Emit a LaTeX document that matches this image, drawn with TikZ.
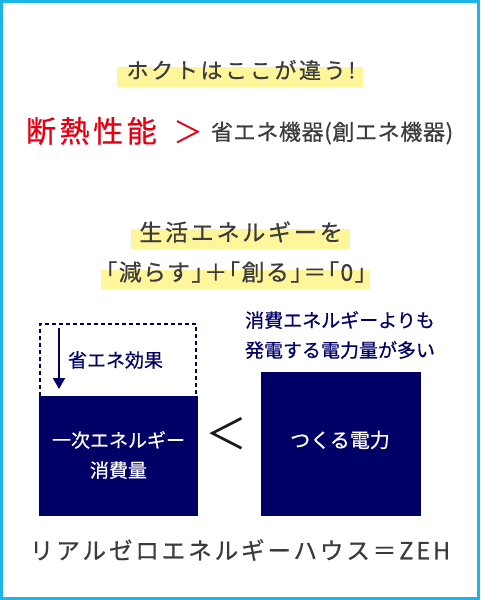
\documentclass[tikz,border=0pt]{standalone}
\usepackage{fontspec}
\setmainfont[FakeBold=0.6]{Noto Sans CJK JP}
\newfontfamily\jpsp[LetterSpace=12,FakeBold=0.6]{Noto Sans CJK JP}
\newfontfamily\jpspb[LetterSpace=3,FakeBold=0.6]{Noto Sans CJK JP}
\newfontfamily\jphalt[LetterSpace=6,RawFeature=+halt,FakeBold=0.6]{Noto Sans CJK JP}
\newfontfamily\jpthin{Noto Sans CJK JP}
\usetikzlibrary{arrows.meta}
\definecolor{framec}{HTML}{1DB4EC}
\definecolor{navy}{HTML}{000066}
\definecolor{hl}{HTML}{FFF59B}
\definecolor{txt}{HTML}{3C3C3C}
\definecolor{redt}{HTML}{E60012}
\tikzset{
  plain/.style={inner sep=0pt, outer sep=0pt},
  hlbar/.style={fill=hl},
  navybox/.style={fill=navy, draw=none, inner sep=0pt, outer sep=0pt},
  boxtext/.style={plain, text=white, font=\fontsize{19}{30}\selectfont, align=center},
  navytext/.style={plain, text=navy, font=\fontsize{19}{19}\selectfont},
}
\begin{document}
\begin{tikzpicture}[x=1pt,y=-1pt]
\fill[framec] (0,0) rectangle (480,600);
\fill[white] (3,3) rectangle (476.5,597);
\useasboundingbox (0,0) rectangle (480,600);

% highlights
\fill[hlbar] (117,67) rectangle (363,87);
\fill[hlbar] (131,229) rectangle (350,249);
\fill[hlbar] (101,270) rectangle (370,289);

\node[plain, text=txt, font=\jpsp\fontsize{22}{22}\selectfont] (t1) at (241,70) {ホクトはここが違う!};

\node[plain, anchor=west, text=redt, font=\jpsp\fontsize{30}{30}\selectfont] (t2) at (26,131) {断熱性能};
\node[plain, text=redt, font=\jpthin\fontsize{30}{30}\selectfont] (gt) at (188,132) {＞};
\node[plain, anchor=west, text=txt, font=\jpspb\fontsize{22}{22}\selectfont] (t3) at (211,133) {省エネ機器(創エネ機器)};

\node[plain, text=txt, font=\jpsp\fontsize{23}{23}\selectfont] (t4) at (241,232) {生活エネルギーを};
\node[plain, text=txt, font=\jphalt\fontsize{23}{23}\selectfont] (t5) at (236,272) {「減らす」＋「創る」＝「0」};

% dashed box and arrow
\coordinate (d1) at (40,396);
\coordinate (d2) at (40,324);
\coordinate (d3) at (196,324);
\coordinate (d4) at (196,396);
\draw[navy, line width=2pt, dash pattern=on 4pt off 3pt] (d1) -- (d2) -- (d3) -- (d4);
\coordinate (a1) at (59,328);
\coordinate (a2) at (59,389);
\draw[navy, line width=2pt, -{Triangle[width=12pt,length=11pt]}] (a1) -- (a2);
\node[navytext, anchor=west] (eff) at (68,360) {省エネ効果};

% boxes
\node[navybox, minimum width=159pt, minimum height=120pt] (lb) at (118.5,456) {};
\node[boxtext] (lbt) at (118.5,455) {一次エネルギー\\消費量};
\node[navybox, minimum width=160pt, minimum height=144pt] (rb) at (341,444) {};
\node[plain, text=white, font=\fontsize{20}{20}\selectfont] (rbt) at (340,440) {つくる電力};

\node[plain, text=black!90, font=\jpthin\fontsize{42}{42}\selectfont] (lt) at (226,434) {＜};

\node[navytext] (ra) at (340,320) {消費エネルギーよりも};
\node[navytext] (rbb) at (340,350) {発電する電力量が多い};

\node[plain, text=txt, font=\jpsp\fontsize{23.6}{24}\selectfont] (bot) at (240,550) {リアルゼロエネルギーハウス＝ZEH};
\end{tikzpicture}
\end{document}
